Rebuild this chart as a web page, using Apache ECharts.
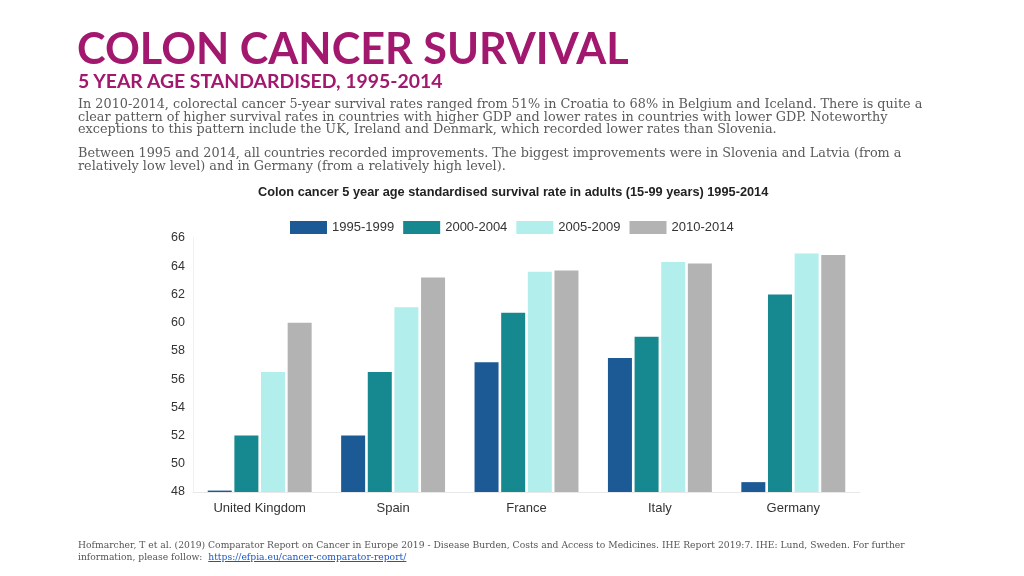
<!DOCTYPE html>
<html>
<head>
<meta charset="utf-8">
<script src="https://cdn.jsdelivr.net/npm/echarts@6/dist/echarts.min.js"></script>
<style>
html,body{margin:0;padding:0;background:#fff;width:1024px;height:576px;overflow:hidden;}
#chart{position:absolute;left:0;top:0;width:1024px;height:576px;}
.t{position:absolute;white-space:nowrap;}
#h1{left:77px;top:22px;font-family:Lato;font-weight:bold;font-size:43.2px;color:#a2186e;line-height:50px;}
#h2{left:78px;top:70px;font-family:Lato;font-weight:bold;font-size:19.4px;color:#a2186e;line-height:22px;}
.p{left:78px;font-family:"DejaVu Serif";font-size:12.8px;color:#5a5a5a;line-height:12.5px;}
#p1{top:98px;}
#p2{top:147px;}
#foot{left:78px;top:539px;font-family:"DejaVu Serif";font-size:9.2px;color:#555;line-height:12px;}
#foot a{color:#1a56c4;text-decoration:underline;}
</style>
</head>
<body>
<div id="chart"></div>
<div class="t" id="h1">COLON CANCER SURVIVAL</div>
<div class="t" id="h2">5 YEAR AGE STANDARDISED, 1995-2014</div>
<div class="t p" id="p1">In 2010-2014, colorectal cancer 5-year survival rates ranged from 51% in Croatia to 68% in Belgium and Iceland. There is quite a<br>clear pattern of higher survival rates in countries with higher GDP and lower rates in countries with lower GDP. Noteworthy<br>exceptions to this pattern include the UK, Ireland and Denmark, which recorded lower rates than Slovenia.</div>
<div class="t p" id="p2">Between 1995 and 2014, all countries recorded improvements. The biggest improvements were in Slovenia and Latvia (from a<br>relatively low level) and in Germany (from a relatively high level).</div>
<div class="t" id="foot">Hofmarcher, T et al. (2019) Comparator Report on Cancer in Europe 2019 - Disease Burden, Costs and Access to Medicines. IHE Report 2019:7. IHE: Lund, Sweden. For further<br>information, please follow:&nbsp; <a>https://efpia.eu/cancer-comparator-report/</a></div>
<script>
var countries = ['United Kingdom', 'Spain', 'France', 'Italy', 'Germany'];
var periods = ['1995-1999', '2000-2004', '2005-2009', '2010-2014'];
var v1995 = [48.1, 52.0, 57.2, 57.5, 48.7];
var v2000 = [52.0, 56.5, 60.7, 59.0, 62.0];
var v2005 = [56.5, 61.1, 63.6, 64.3, 64.9];
var v2010 = [60.0, 63.2, 63.7, 64.2, 64.8];
var colors = ['#1c5a96', '#16888f', '#b2eeec', '#b3b3b3'];
var seriesValues = [v1995, v2000, v2005, v2010];

var chart = echarts.init(document.getElementById('chart'), null, {renderer: 'canvas'});
chart.setOption({
  animation: false,
  title: {
    text: 'Colon cancer 5 year age standardised survival rate in adults (15-99 years) 1995-2014',
    left: 253, top: 181,
    textStyle: {fontFamily: 'Liberation Sans', fontWeight: 'bold', fontSize: 12.75, color: '#222'}
  },
  legend: {
    left: 285, top: 216,
    itemWidth: 37, itemHeight: 13, itemGap: 9,
    icon: 'rect',
    textStyle: {fontFamily: 'Liberation Sans', fontSize: 13, color: '#333'},
    data: periods
  },
  grid: {left: 193, right: 164, top: 238, bottom: 84, containLabel: false},
  xAxis: {
    type: 'category', data: countries,
    axisLine: {show: true, lineStyle: {color: '#e8e8e8'}},
    axisTick: {show: false},
    axisLabel: {fontFamily: 'Liberation Sans', fontSize: 13, color: '#333', margin: 10}
  },
  yAxis: {
    type: 'value', min: 48, max: 66, interval: 2,
    axisLine: {show: true, lineStyle: {color: '#f0f0f0'}},
    axisTick: {show: false},
    splitLine: {show: false},
    axisLabel: {fontFamily: 'Liberation Sans', fontSize: 12.5, color: '#333', margin: 8}
  },
  series: periods.map(function (p, i) {
    return {
      name: p, type: 'bar', data: seriesValues[i],
      barWidth: 24, barGap: '11%',
      itemStyle: {color: colors[i]}
    };
  })
});
</script>
</body>
</html>
